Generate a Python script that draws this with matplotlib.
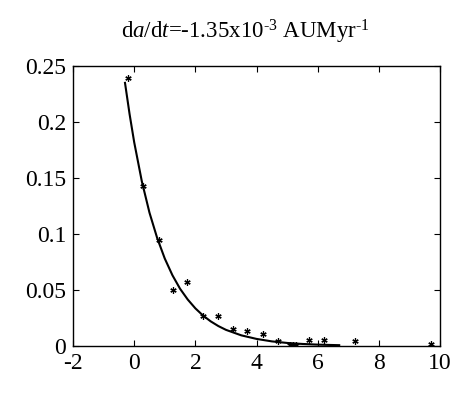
import matplotlib
matplotlib.use("Agg")
import matplotlib.pyplot as plt

# measured points (x, y)
x_pts = [-0.2, 0.29, 0.8, 1.26, 1.74, 2.26, 2.74, 3.23, 3.7, 4.2, 4.7,
         5.1, 5.2, 5.3, 5.7, 6.2, 7.2, 9.7]
y_pts = [0.239, 0.143, 0.095, 0.050, 0.057, 0.027, 0.027, 0.015, 0.013, 0.011, 0.0045,
         0.001, 0.001, 0.001, 0.005, 0.005, 0.004, 0.002]

# fitted curve
x_fit = [-0.3, -0.15, 0.0, 0.25, 0.5, 0.75, 1.0, 1.25, 1.5, 1.75, 2.0, 2.25,
         2.5, 2.75, 3.0, 3.5, 4.0, 4.5, 5.0, 5.5, 6.0, 6.7]
y_fit = [0.235, 0.207, 0.182, 0.147, 0.119, 0.0965, 0.078, 0.0631, 0.051, 0.0414,
         0.0335, 0.0271, 0.0219, 0.0177, 0.0143, 0.0094, 0.0062, 0.0040, 0.0026,
         0.0017, 0.0011, 0.0006]

plt.rcParams['font.family'] = ['Liberation Serif', 'DejaVu Serif']
plt.rcParams['mathtext.fontset'] = 'custom'
plt.rcParams['mathtext.rm'] = 'Liberation Serif'
plt.rcParams['mathtext.it'] = 'Liberation Serif:italic'
plt.rcParams['axes.unicode_minus'] = False

fig = plt.figure(figsize=(4.59, 3.98), dpi=100)
ax = fig.add_axes([0.159, 0.131, 0.8, 0.703])

ax.plot(x_fit, y_fit, color='black', lw=1.5)
ax.plot(x_pts, y_pts, linestyle='none', marker=(6, 2, 0), ms=4.5, mew=0.9, color='black')

ax.set_xlim(-2, 10)
ax.set_ylim(0, 0.25)
ax.set_xticks([-2, 0, 2, 4, 6, 8, 10])
ax.set_yticks([0, 0.05, 0.1, 0.15, 0.2, 0.25])
ax.set_yticklabels(['0', '0.05', '0.1', '0.15', '0.2', '0.25'])
ax.tick_params(direction='in', top=True, right=True, length=4, labelsize=17, pad=5)
for s in ax.spines.values():
    s.set_linewidth(1.0)

ax.set_title(r'd$\mathit{a}$/d$\mathit{t}$=-1.35x10$^{\text{-3}}$ AUMyr$^{\text{-1}}$',
             fontsize=16.5, pad=20, x=0.469)

fig.savefig('out.png', dpi=100)
